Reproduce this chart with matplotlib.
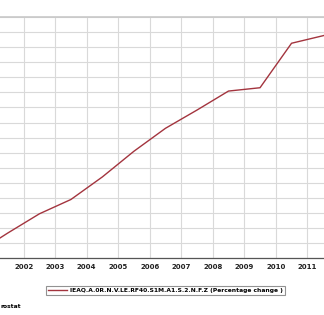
import matplotlib
matplotlib.use('Agg')
import matplotlib.pyplot as plt

# data (values in grid units, y labels are cropped off)
years = [2000.5, 2001.5, 2002.5, 2003.5, 2004.5, 2005.5, 2006.5, 2007.5, 2008.5, 2009.5, 2010.5, 2011.5, 2012.5]
values = [0.35, 1.68, 2.95, 3.90, 5.40, 7.10, 8.62, 9.83, 11.09, 11.31, 14.26, 14.76, 15.3]
tick_years = [2002, 2003, 2004, 2005, 2006, 2007, 2008, 2009, 2010, 2011]
legend_label = 'IEAQ.A.0R.N.V.LE.RF40.S1M.A1.S.2.N.F.Z (Percentage change )'

fig = plt.figure(figsize=(3.24, 3.15), dpi=100)
ax = fig.add_axes([0, 0.18, 1, 0.946 - 0.18])

line, = ax.plot(years, values, color='#a3343e', lw=1.0)

ax.set_xlim(2001.25, 2011.53)
ax.set_ylim(0, 16)
ax.set_xticks(tick_years)
ax.set_xticklabels([str(y) for y in tick_years], fontsize=5, fontweight='bold', color='#222222')
ax.set_yticks(range(0, 17))
ax.set_yticklabels([])
ax.tick_params(axis='both', length=0, pad=4)
ax.grid(True, color='#d9d9d9', lw=0.8)
ax.set_axisbelow(True)

for s in ['left', 'right']:
    ax.spines[s].set_visible(False)
ax.spines['top'].set_color('#c8c8c8')
ax.spines['top'].set_linewidth(1.2)
ax.spines['bottom'].set_color('#555555')
ax.spines['bottom'].set_linewidth(0.9)

leg = fig.legend([line], [legend_label], loc='center', bbox_to_anchor=(0.511, 0.077),
                 frameon=True, fancybox=False, handlelength=3.2,
                 borderpad=0.35, handletextpad=0.4, prop={'size': 4.3, 'weight': 'bold'})
leg.get_frame().set_edgecolor('#777777')
leg.get_frame().set_linewidth(0.8)

# source note, cut at the left edge in the original
fig.text(0.002, 0.026, 'rostat', fontsize=4.3, fontweight='bold', ha='left', va='center')

fig.savefig('out.png', dpi=100)
